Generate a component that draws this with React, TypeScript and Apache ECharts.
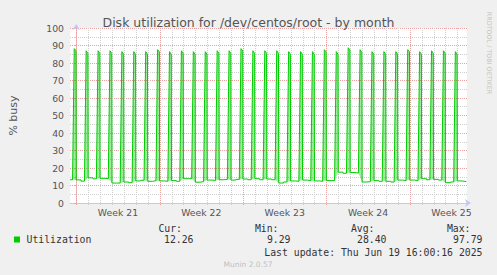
import React, { useEffect, useRef } from "react";
import * as echarts from "echarts";

// Time unit: days since Monday 19 May 2025 00:00 (start of ISO week 21)
const xMin = -0.525;
const xMax = 32.808;
const weekLabels = ["Week 21", "Week 22", "Week 23", "Week 24", "Week 25"];
const weekCenters = [3.5, 10.5, 17.5, 24.5, 31.5];
const weekStarts = [0, 7, 14, 21, 28];
const dayLines = [
  0, 1, 2, 3, 4, 5, 6, 7, 8, 9, 10, 11, 12, 13, 14, 15, 16, 17, 18, 19, 20,
  21, 22, 23, 24, 25, 26, 27, 28, 29, 30, 31, 32,
];

// One busy spike every evening (day index = day on which the spike ends)
const spikeDays = [
  0, 1, 2, 3, 4, 5, 6, 7, 8, 9, 10, 11, 12, 13, 14, 15, 16, 17, 18, 19, 20,
  21, 22, 23, 24, 25, 26, 27, 28, 29, 30, 31, 32,
];
const spikeRise = -0.31; // rise starts ~17:30 the previous day
const spikeTop = -0.17;
const spikeTopEnd = -0.02;
const spikeFall = 0.0;

const startBaseline = 13.3;
const peaks = [
  88.2, 87.0, 87.0, 87.0, 86.5, 86.5, 86.5, 87.6, 86.5, 87.0, 86.5, 86.5,
  87.0, 87.0, 88.2, 87.0, 87.0, 87.0, 86.5, 86.5, 86.5, 87.6, 86.5, 88.7,
  87.6, 86.5, 86.5, 86.5, 87.6, 86.5, 87.0, 87.0, 86.5,
];
const peakDrop = [
  1.2, 1.5, 1.5, 1.5, 1.5, 1.5, 1.5, 1.2, 1.5, 1.5, 1.5, 1.5, 1.5, 1.5, 1.2,
  1.5, 1.5, 1.5, 1.5, 1.5, 1.5, 1.2, 1.5, 1.2, 1.5, 1.5, 1.5, 1.5, 1.2, 1.5,
  1.5, 1.5, 1.5,
];
// baseline after each spike: first part of the day, then later part
const baseEarly = [
  13.2, 14.4, 14.1, 11.4, 12.0, 12.6, 12.4, 12.6, 12.8, 13.9, 11.9, 13.1, 13.3,
  13.1, 13.7, 13.9, 13.7, 11.4, 12.6, 13.1, 12.6, 12.8, 17.6, 17.4, 12.0, 12.8,
  12.4, 13.1, 13.1, 13.9, 13.5, 11.6, 12.6,
];
const baseLate = [
  12.5, 13.8, 13.9, 11.4, 11.6, 13.0, 12.7, 12.4, 12.4, 13.9, 12.2, 12.9, 13.5,
  13.5, 13.3, 13.3, 13.3, 12.0, 12.4, 12.8, 12.4, 12.8, 17.0, 17.1, 12.2, 12.4,
  12.0, 12.8, 12.8, 13.3, 13.1, 12.0, 12.26,
];
const baseSwitch = 0.4; // time of day when the baseline level changes

const seriesName = "Utilization";
const statLabels = ["Cur:", "Min:", "Avg:", "Max:"];
const statValues = ["12.26", "9.29", "28.40", "97.79"];
const lastUpdate = "Last update: Thu Jun 19 16:00:16 2025";
const yTitle = "% busy";
const chartTitle = "Disk utilization for /dev/centos/root - by month";

const GREEN = "#00cc00";
const RED_GRID = "#e9a0a0";
const GRAY_GRID = "#cfcfcf";
const AXIS_BLUE = "#c4c8f4";
const TXT = "#555555";
const SANS = "DejaVu Sans";
const MONO = "DejaVu Sans Mono";

function buildLine(): number[][] {
  const pts: number[][] = [[xMin, startBaseline]];
  spikeDays.forEach((k, i) => {
    const before = i === 0 ? startBaseline : baseLate[i - 1];
    pts.push([k + spikeRise, before]);
    pts.push([k + spikeTop, peaks[i]]);
    pts.push([k + spikeTopEnd, peaks[i] - peakDrop[i]]);
    pts.push([k + spikeFall, baseEarly[i]]);
    pts.push([k + baseSwitch, baseEarly[i]]);
    pts.push([k + baseSwitch + 0.01, baseLate[i]]);
    const next = i + 1 < spikeDays.length ? spikeDays[i + 1] + spikeRise : xMax - 0.05;
    pts.push([next, baseLate[i]]);
  });
  return pts;
}

function buildSpikes(): number[][] {
  return spikeDays.map((k, i) => [
    k,
    i === 0 ? startBaseline : baseLate[i - 1],
    peaks[i],
    baseEarly[i],
    peakDrop[i],
  ]);
}

function gridLineSeries(values: number[], color: string, z: number) {
  return {
    type: "custom",
    silent: true,
    z,
    clip: false,
    data: values.map((v) => [v, 0]),
    encode: { x: 0, y: 1 },
    renderItem: (_p: any, api: any) => {
      const v = api.value(0);
      const top = api.coord([v, 100]);
      const bot = api.coord([v, 0]);
      const x = Math.round(top[0]) + 0.5;
      return {
        type: "line",
        shape: { x1: x, y1: top[1], x2: x, y2: bot[1] + 3 },
        style: { stroke: color, lineWidth: 1, lineDash: [1, 1] },
      };
    },
  };
}

export default function App() {
  const ref = useRef<HTMLDivElement>(null);

  useEffect(() => {
    if (!ref.current) return;
    const chart = echarts.init(ref.current, undefined, { renderer: "svg" });

    const legendY = 239.5;
    const statRight = [193.5, 290.5, 386.5, 482.5];
    const labelRight = [182, 278.5, 374.5, 470.5];

    const graphics: any[] = [
      {
        type: "text",
        x: 488.5,
        y: 53,
        rotation: -Math.PI / 2,
        style: {
          text: "RRDTOOL / TOBI OETIKER",
          font: `6.4px ${SANS}`,
          fill: "#c4c4c4",
          align: "center",
          verticalAlign: "middle",
        },
      },
      {
        type: "rect",
        shape: { x: 14, y: 236.5, width: 6, height: 6 },
        style: { fill: GREEN },
      },
      {
        type: "text",
        x: 26.5,
        y: legendY,
        style: {
          text: seriesName,
          font: `9.8px ${MONO}`,
          fill: "#333",
          align: "left",
          verticalAlign: "middle",
        },
      },
      {
        type: "text",
        x: 482.5,
        y: 252,
        style: {
          text: lastUpdate,
          font: `9.8px ${MONO}`,
          fill: "#333",
          align: "right",
          verticalAlign: "middle",
        },
      },
      {
        type: "text",
        x: 248,
        y: 264.5,
        style: {
          text: "Munin 2.0.57",
          font: `7.5px ${SANS}`,
          fill: "#c0c0c0",
          align: "center",
          verticalAlign: "middle",
        },
      },
    ];
    statLabels.forEach((s, i) => {
      graphics.push({
        type: "text",
        x: labelRight[i],
        y: 228,
        style: {
          text: s,
          font: `9.8px ${MONO}`,
          fill: "#333",
          align: "right",
          verticalAlign: "middle",
        },
      });
      graphics.push({
        type: "text",
        x: statRight[i],
        y: legendY,
        style: {
          text: statValues[i],
          font: `9.8px ${MONO}`,
          fill: "#333",
          align: "right",
          verticalAlign: "middle",
        },
      });
    });

    chart.setOption({
      animation: false,
      backgroundColor: "#f0f0f0",
      title: {
        text: chartTitle,
        left: "center",
        top: 11,
        textStyle: {
          fontFamily: SANS,
          fontSize: 12.5,
          fontWeight: "normal",
          color: TXT,
        },
      },
      grid: {
        left: 67,
        top: 28,
        width: 400,
        height: 175,
        show: true,
        backgroundColor: "#ffffff",
        borderWidth: 0,
      },
      xAxis: {
        type: "value",
        min: xMin,
        max: xMax,
        splitLine: { show: false },
        axisTick: { show: false },
        axisLine: {
          show: true,
          onZero: false,
          lineStyle: { color: AXIS_BLUE, width: 1 },
          symbol: ["none", "arrow"],
          symbolSize: [6, 6],
          symbolOffset: [0, 4],
        },
        axisLabel: {
          customValues: weekCenters,
          formatter: (v: number) => {
            const i = weekCenters.findIndex((c) => Math.abs(c - v) < 1e-6);
            return i >= 0 ? weekLabels[i] : "";
          },
          fontFamily: SANS,
          fontSize: 9.3,
          color: TXT,
          margin: 5,
          showMinLabel: true,
          showMaxLabel: true,
        },
      },
      yAxis: {
        type: "value",
        min: 0,
        max: 100,
        interval: 10,
        name: yTitle,
        nameLocation: "middle",
        nameGap: 51,
        nameRotate: 90,
        nameTextStyle: { fontFamily: SANS, fontSize: 11, color: TXT },
        axisLine: {
          show: true,
          lineStyle: { color: AXIS_BLUE, width: 1 },
          symbol: ["none", "arrow"],
          symbolSize: [6, 6],
          symbolOffset: [0, 4],
        },
        axisTick: {
          show: true,
          length: 2,
          lineStyle: { color: RED_GRID },
        },
        minorTick: {
          show: true,
          splitNumber: 2,
          length: 2,
          lineStyle: { color: GRAY_GRID },
        },
        splitLine: {
          show: true,
          lineStyle: { color: RED_GRID, type: [1, 1], width: 1 },
        },
        minorSplitLine: {
          show: true,
          lineStyle: { color: GRAY_GRID, type: [1, 1], width: 1 },
        },
        axisLabel: {
          fontFamily: SANS,
          fontSize: 9.3,
          color: TXT,
          margin: 6,
        },
      },
      graphic: graphics,
      series: [
        gridLineSeries(
          dayLines.filter((d) => weekStarts.indexOf(d) < 0),
          GRAY_GRID,
          1
        ),
        gridLineSeries(weekStarts, RED_GRID, 1),
        {
          type: "custom",
          silent: true,
          z: 2,
          data: buildSpikes(),
          encode: { x: 0, y: 2 },
          renderItem: (_p: any, api: any) => {
            const k = api.value(0);
            const b0 = api.value(1);
            const p = api.value(2);
            const b1 = api.value(3);
            const d = api.value(4);
            const pts = [
              api.coord([k + spikeRise, b0]),
              api.coord([k + spikeTop, p]),
              api.coord([k + spikeTopEnd, p - d]),
              api.coord([k + spikeFall, b1]),
            ];
            return {
              type: "polygon",
              shape: { points: pts },
              style: { fill: "rgba(0,204,0,0.38)" },
            };
          },
        },
        {
          name: seriesName,
          type: "line",
          z: 3,
          data: buildLine(),
          showSymbol: false,
          symbol: "none",
          lineStyle: { color: GREEN, width: 1 },
          silent: true,
        },
      ],
    });

    return () => chart.dispose();
  }, []);

  return (
    <div
      ref={ref}
      style={{ position: "fixed", left: 0, top: 0, width: 497, height: 275 }}
    />
  );
}
